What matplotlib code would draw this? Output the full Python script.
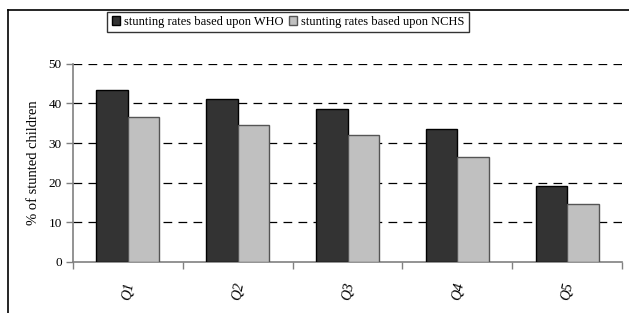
import numpy as np
import matplotlib
matplotlib.use("Agg")
import matplotlib.pyplot as plt
from matplotlib.lines import Line2D

plt.rcParams['font.family'] = ['Liberation Serif', 'DejaVu Serif']

quintiles = ['Q1', 'Q2', 'Q3', 'Q4', 'Q5']
who = [43.3, 41.1, 38.6, 33.5, 19.2]
nchs = [36.5, 34.6, 32.1, 26.4, 14.6]
series_names = ['stunting rates based upon WHO', 'stunting rates based upon NCHS']
yticks = [0, 10, 20, 30, 40, 50]

fig = plt.figure(figsize=(6.29, 3.13), dpi=100)
ax = fig.add_axes([0.116, 0.163, 0.873, 0.633])

x = np.arange(len(quintiles))
w = 0.286
ax.bar(x - w / 2, who, w, color='#333333', edgecolor='black', linewidth=1, zorder=3)
ax.bar(x + w / 2, nchs, w, color='#c0c0c0', edgecolor='#555555', linewidth=1, zorder=3)

ax.set_xlim(-0.5, len(quintiles) - 0.5)
ax.set_ylim(0, 50)
ax.set_yticks(yticks)
ax.tick_params(axis='y', labelsize=9.5, length=5, width=1, color='#808080', pad=3)

# category labels at centres, tick marks at the boundaries
ax.set_xticks(x)
ax.set_xticklabels(quintiles, rotation=80, fontsize=10.5, style='italic')
ax.tick_params(axis='x', which='major', length=0, pad=14)
ax.set_xticks(np.arange(len(quintiles) + 1) - 0.5, minor=True)
ax.tick_params(axis='x', which='minor', length=5, width=1, color='#808080')

for v in yticks[1:]:
    ax.axhline(v, color='black', lw=0.9, ls=(0, (7, 5)), zorder=1)

for s in ['top', 'right']:
    ax.spines[s].set_visible(False)
for s in ['left', 'bottom']:
    ax.spines[s].set_color('#808080')
    ax.spines[s].set_linewidth(1.2)

ax.set_ylabel('% of stunted children', fontsize=10.5, labelpad=6)

handles = [plt.Rectangle((0, 0), 1, 1, facecolor='#333333', edgecolor='black'),
           plt.Rectangle((0, 0), 1, 1, facecolor='#c0c0c0', edgecolor='#555555')]
leg = fig.legend(handles, series_names, loc='upper center', bbox_to_anchor=(0.458, 0.963),
                 ncol=2, fontsize=9, frameon=True, fancybox=False, handlelength=0.7,
                 handleheight=0.7, handletextpad=0.3, columnspacing=0.4,
                 borderpad=0.35, borderaxespad=0)
leg.get_frame().set_edgecolor('black')
leg.get_frame().set_linewidth(1)

# outer chart frame (only top and left edges visible in the crop)
fig.add_artist(Line2D([0.013, 1.0], [0.968, 0.968], color='black', lw=1.2, transform=fig.transFigure))
fig.add_artist(Line2D([0.013, 0.013], [0.0, 0.968], color='black', lw=1.2, transform=fig.transFigure))

fig.savefig('out.png', dpi=100)
